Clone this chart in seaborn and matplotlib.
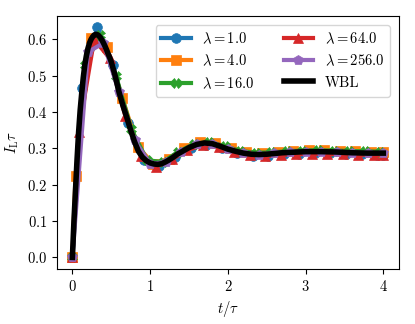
import matplotlib
matplotlib.use("Agg")
import matplotlib.pyplot as plt
import numpy as np
import pandas as pd
import seaborn as sns

# lambda = 1.0
t_l1 = [0, 0.12, 0.32, 0.52, 0.72, 0.92, 1.12, 1.32, 1.52, 1.72, 1.92, 2.12, 2.32, 2.52, 2.72, 2.92, 3.12, 3.32, 3.52, 3.72, 3.92, 4.0]
y_l1 = [0, 0.466, 0.633, 0.530, 0.370, 0.268, 0.252, 0.276, 0.300, 0.310, 0.300, 0.287, 0.280, 0.280, 0.284, 0.285, 0.287, 0.286, 0.285, 0.284, 0.283, 0.283]
# lambda = 4.0
t_l4 = [0, 0.04, 0.24, 0.44, 0.64, 0.84, 1.04, 1.24, 1.44, 1.64, 1.84, 2.04, 2.24, 2.44, 2.64, 2.84, 3.04, 3.24, 3.44, 3.64, 3.84, 4.0]
y_l4 = [0, 0.225, 0.603, 0.578, 0.440, 0.305, 0.258, 0.272, 0.300, 0.317, 0.315, 0.300, 0.291, 0.288, 0.290, 0.293, 0.295, 0.295, 0.294, 0.292, 0.291, 0.290]
# lambda = 16.0
t_l16 = [0, 0.16, 0.36, 0.56, 0.76, 0.96, 1.16, 1.36, 1.56, 1.76, 1.96, 2.16, 2.36, 2.56, 2.76, 2.96, 3.16, 3.36, 3.56, 3.76, 3.96]
y_l16 = [0, 0.530, 0.612, 0.500, 0.352, 0.268, 0.262, 0.290, 0.312, 0.318, 0.306, 0.293, 0.288, 0.289, 0.292, 0.294, 0.295, 0.294, 0.293, 0.292, 0.291]
# lambda = 64.0
t_l64 = [0, 0.08, 0.28, 0.48, 0.68, 0.88, 1.08, 1.28, 1.48, 1.68, 1.88, 2.08, 2.28, 2.48, 2.68, 2.88, 3.08, 3.28, 3.48, 3.68, 3.88, 4.0]
y_l64 = [0, 0.346, 0.600, 0.548, 0.390, 0.280, 0.250, 0.270, 0.295, 0.310, 0.304, 0.289, 0.281, 0.279, 0.282, 0.284, 0.285, 0.285, 0.284, 0.283, 0.282, 0.282]
# lambda = 256.0
t_l256 = [0, 0.2, 0.4, 0.6, 0.8, 1.0, 1.2, 1.4, 1.6, 1.8, 2.0, 2.2, 2.4, 2.6, 2.8, 3.0, 3.2, 3.4, 3.6, 3.8, 4.0]
y_l256 = [0, 0.565, 0.590, 0.455, 0.322, 0.258, 0.262, 0.291, 0.312, 0.313, 0.297, 0.287, 0.283, 0.287, 0.290, 0.291, 0.291, 0.290, 0.288, 0.287, 0.287]
# WBL
t_wbl = [0, 0.02, 0.04, 0.06, 0.08, 0.10, 0.12, 0.14, 0.16, 0.18, 0.20, 0.22, 0.24, 0.26, 0.28, 0.30,
         0.32, 0.34, 0.36, 0.38, 0.40, 0.42, 0.44, 0.46, 0.48, 0.50, 0.55, 0.60, 0.65, 0.70, 0.75,
         0.80, 0.85, 0.90, 0.95, 1.00, 1.05, 1.10, 1.15, 1.20, 1.25, 1.30, 1.35, 1.40, 1.50, 1.60,
         1.70, 1.80, 1.90, 2.00, 2.10, 2.20, 2.30, 2.40, 2.50, 2.60, 2.70, 2.80, 2.90, 3.00, 3.20,
         3.40, 3.60, 3.80, 4.00]
y_wbl = [0, 0.100, 0.185, 0.270, 0.345, 0.405, 0.452, 0.495, 0.530, 0.555, 0.575, 0.590, 0.600, 0.607, 0.612, 0.614,
         0.613, 0.610, 0.605, 0.598, 0.590, 0.581, 0.571, 0.560, 0.550, 0.538, 0.500, 0.455, 0.418, 0.385, 0.350,
         0.318, 0.292, 0.276, 0.266, 0.260, 0.257, 0.256, 0.258, 0.263, 0.269, 0.276, 0.284, 0.290, 0.302, 0.311,
         0.315, 0.313, 0.306, 0.298, 0.292, 0.287, 0.284, 0.283, 0.284, 0.286, 0.288, 0.289, 0.290, 0.291, 0.291,
         0.290, 0.288, 0.287, 0.287]

series = [
    (r'$\lambda = 1.0$', t_l1, y_l1, 'o', '#1f77b4'),
    (r'$\lambda = 4.0$', t_l4, y_l4, 's', '#ff7f0e'),
    (r'$\lambda = 16.0$', t_l16, y_l16, 'X', '#2ca02c'),
    (r'$\lambda = 64.0$', t_l64, y_l64, '^', '#d62728'),
    (r'$\lambda = 256.0$', t_l256, y_l256, 'p', '#9467bd'),
]

plt.rcParams['font.family'] = 'serif'
plt.rcParams['font.serif'] = ['cmr10', 'DejaVu Serif']
plt.rcParams['mathtext.fontset'] = 'cm'
plt.rcParams['axes.formatter.use_mathtext'] = True
plt.rcParams['axes.unicode_minus'] = False
plt.rcParams['font.size'] = 10.5

fig, ax = plt.subplots(figsize=(4.15, 3.24), dpi=100)
for label, t, y, m, c in series:
    df = pd.DataFrame({'t': t, 'y': y})
    sns.lineplot(data=df, x='t', y='y', ax=ax, label=label, color=c, marker=m,
                 markersize=7, markeredgecolor=c, markeredgewidth=0.5, linewidth=3)
sns.lineplot(x=t_wbl, y=y_wbl, ax=ax, label='WBL', color='black', linewidth=4)

ax.set_xticks([0, 1, 2, 3, 4])
ax.set_yticks([0.0, 0.1, 0.2, 0.3, 0.4, 0.5, 0.6])
ax.set_xlabel(r'$t/\tau$')
ax.set_ylabel(r'$I_{\rm L}\tau$')
ax.legend(loc='upper right', ncol=2, fontsize=10.5, borderaxespad=0.6)
fig.subplots_adjust(left=0.137, right=0.961, top=0.951, bottom=0.170)
fig.savefig('out.png', dpi=100)
